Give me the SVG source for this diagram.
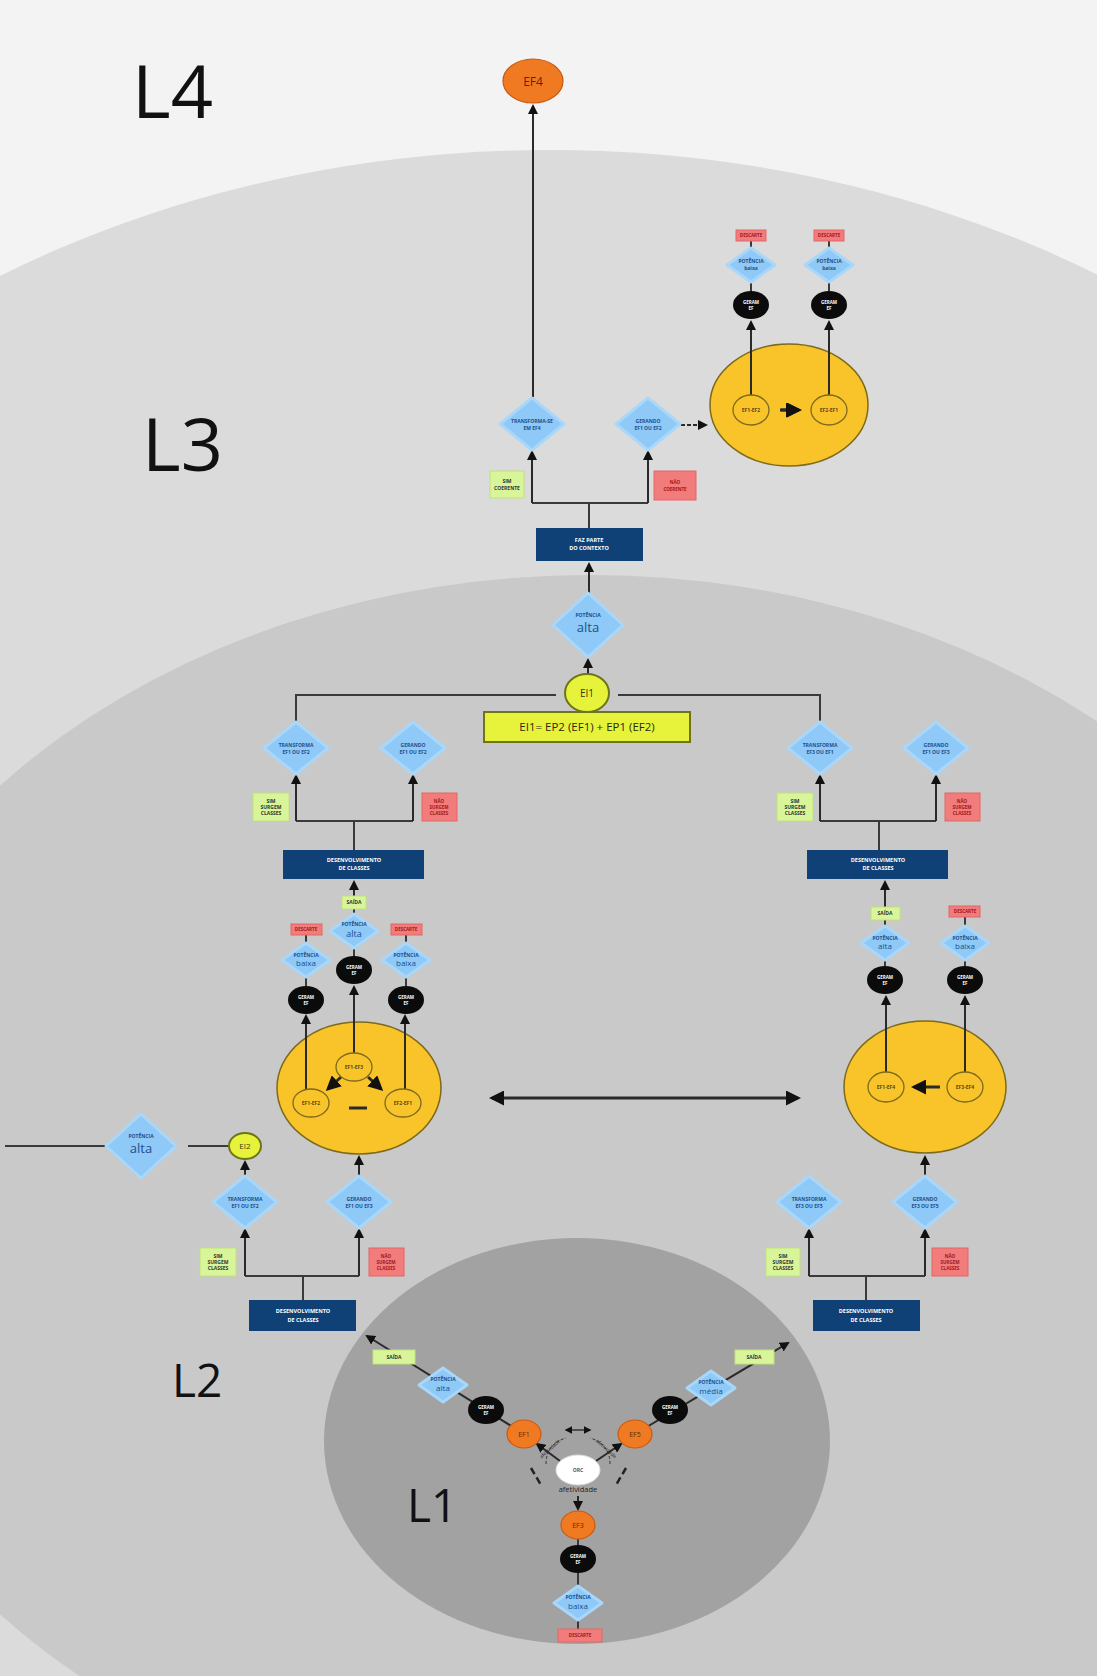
<svg xmlns="http://www.w3.org/2000/svg" width="1097" height="1676" viewBox="0 0 1097 1676">
<style>
.dia{fill:#8ec9f7;stroke:#a9d7fa;stroke-width:3;stroke-linejoin:round}
.dk{fill:#0f4177}
.gr{fill:#d8f59a;stroke:#c2e27c;stroke-width:1}
.rd{fill:#f27b7b;stroke:#e46666;stroke-width:1}
.bl{fill:#0b0b0b}
.or{fill:#f07a22;stroke:#c95a12;stroke-width:1.2}
.yb{fill:#f8c42a;stroke:#7d6a1c;stroke-width:1.5}
.yi{fill:#f8c42a;stroke:#7d6a1c;stroke-width:1.3}
.ye{fill:#e7f23a;stroke:#6e7418;stroke-width:2}
.t{font-family:"Open Sans","Liberation Sans",sans-serif;text-anchor:middle}
.td{font-size:5px;fill:#1d4f8c;font-weight:700}
.tw{font-size:5.5px;fill:#fff;font-weight:700}
.tk{font-size:5px;fill:#333;font-weight:700}
.tb{font-size:4.5px;fill:#fff;font-weight:700}
.tr{font-size:4.5px;fill:#a01818;font-weight:700}
.ty{font-size:5px;fill:#5a4a10;font-weight:700}
.big{font-size:13px;fill:#1d4f8c}
.lv{font-family:"Open Sans","Liberation Sans",sans-serif;fill:#111}
.ln{stroke:#3a3a3a;stroke-width:2;fill:none}
.ar{stroke:#2a2a2a;stroke-width:2;fill:none;marker-end:url(#ah)}
.th{stroke:#2a2a2a;stroke-width:3;fill:none}
</style>
<defs>
<marker id="ah" viewBox="0 0 10 10" refX="8" refY="5" markerWidth="5" markerHeight="5" orient="auto-start-reverse">
<path d="M0,0 L10,5 L0,10 z" fill="#111"/>
</marker>
<polygon id="dA" points="0,-26 32,0 0,26 -32,0"/>
<polygon id="dB" points="0,-17 24,0 0,17 -24,0"/>
<polygon id="dC" points="0,-32 35,0 0,32 -35,0"/>
</defs>

<!-- level backgrounds -->
<rect x="0" y="0" width="1097" height="1676" fill="#f3f3f3"/>
<ellipse cx="550" cy="1000" rx="1050" ry="850" fill="#dbdbdb"/>
<ellipse cx="590" cy="1200" rx="788" ry="625" fill="#c9c9c9"/>
<ellipse cx="577" cy="1441" rx="253" ry="203" fill="#a2a2a2"/>

<!-- level labels -->
<text class="lv" x="132" y="118" font-size="74">L4</text>
<text class="lv" x="142" y="471" font-size="74">L3</text>
<text class="lv" x="172" y="1397" font-size="46">L2</text>
<text class="lv" x="407" y="1522" font-size="46">L1</text>

<!-- cycle containers (drawn under their connectors) -->
<g id="l3-ciclo"><ellipse class="yb" cx="789" cy="405" rx="79" ry="61"/></g>
<g id="l2-ciclo-esq"><ellipse class="yb" cx="359" cy="1088" rx="82" ry="66"/></g>
<g id="l2-ciclo-dir"><ellipse class="yb" cx="925" cy="1087" rx="81" ry="66"/></g>

<!-- connectors -->
<g id="connectors">
<path class="ar" d="M533,397 V106"/>
<path class="ln" d="M532,503 H648 M589,528 V503"/>
<path class="ar" d="M532,503 V452"/>
<path class="ar" d="M648,503 V452"/>
<path class="ar" d="M675,425 H706" stroke-dasharray="4 2"/>
<path class="ar" d="M589,593 V564"/>
<path class="ar" d="M588,674 V660"/>
<path class="ln" d="M296,722 V695 H556 M618,695 H820 V722"/>

<path class="ln" d="M296,821 H413 M354,850 V821"/>
<path class="ar" d="M296,821 V776"/>
<path class="ar" d="M413,821 V776"/>
<path class="ar" d="M354,896 V882"/>
<path class="ln" d="M354,909 V915 M354,948 V957 M306,935 V944 M306,977 V986 M406,935 V944 M406,977 V986"/>
<path class="ar" d="M306,1090 V1016"/>
<path class="ar" d="M354,1053 V987"/>
<path class="ar" d="M405,1090 V1016"/>
<path class="th" d="M341,1077 L328,1089" marker-end="url(#ah)"/>
<path class="th" d="M368,1077 L381,1089" marker-end="url(#ah)"/>
<path class="th" d="M349,1108 H367"/>
<path class="ar" d="M359,1175 V1157"/>
<path class="ar" d="M245,1175 V1162"/>
<path class="ln" d="M188,1146 H228 M5,1146 H105"/>
<path class="ln" d="M245,1276 H359 M303,1300 V1276"/>
<path class="ar" d="M245,1276 V1230"/>
<path class="ar" d="M359,1276 V1230"/>

<path class="th" d="M492,1098 H798" marker-start="url(#ah)" marker-end="url(#ah)"/>

<path class="ln" d="M820,821 H936 M879,850 V821"/>
<path class="ar" d="M820,821 V776"/>
<path class="ar" d="M936,821 V776"/>
<path class="ar" d="M885,907 V882"/>
<path class="ln" d="M885,920 V927 M885,960 V966 M965,917 V927 M965,960 V966"/>
<path class="ar" d="M886,1072 V997"/>
<path class="ar" d="M965,1072 V997"/>
<path class="th" d="M940,1087 H914" marker-end="url(#ah)"/>
<path class="ar" d="M925,1175 V1157"/>
<path class="ln" d="M809,1276 H925 M866,1300 V1276"/>
<path class="ar" d="M809,1276 V1230"/>
<path class="ar" d="M925,1276 V1230"/>

<path class="ar" d="M751,395 V322"/>
<path class="ar" d="M829,395 V322"/>
<path class="th" d="M780,410 H799" marker-end="url(#ah)"/>
<path class="ln" d="M751,241 V249 M751,281 V291 M829,241 V249 M829,281 V291"/>

<path class="ar" d="M524,1434 L367,1336"/>
<path class="ar" d="M635,1434 L788,1343"/>
<path class="ln" d="M578,1539 V1632"/>
<path class="ar" d="M560,1461 L537,1444"/>
<path class="ar" d="M596,1461 L621,1444"/>
<path class="ar" d="M578,1496 V1509"/>
<path d="M546,1464 Q546,1444 566,1438 M610,1464 Q610,1444 590,1438" stroke="#333" stroke-width="1" fill="none" stroke-dasharray="3 2"/>
<path d="M531,1468 L541,1485 M626,1468 L616,1485" stroke="#222" stroke-width="2.5" fill="none" stroke-dasharray="7 4"/>
<path d="M566,1430 H590" stroke="#333" stroke-width="1.5" fill="none" marker-start="url(#ah)" marker-end="url(#ah)"/>
</g>

<!-- L4 -->
<g id="ef4"><ellipse class="or" cx="533" cy="81" rx="30" ry="22"/><text class="t" x="533" y="86" font-size="12" fill="#5a2a05">EF4</text></g>

<!-- L3 -->
<g id="l3-transforma"><use href="#dA" class="dia" x="532" y="424"/><text class="t td" x="532" y="423">TRANSFORMA-SE</text><text class="t td" x="532" y="430">EM EF4</text></g>
<g id="l3-gerando"><use href="#dA" class="dia" x="648" y="424"/><text class="t td" x="648" y="423">GERANDO</text><text class="t td" x="648" y="430">EF1 OU EF2</text></g>
<g id="l3-sim"><rect class="gr" x="490" y="471" width="34" height="27"/><text class="t tk" x="507" y="483">SIM</text><text class="t tk" x="507" y="490">COERENTE</text></g>
<g id="l3-nao"><rect class="rd" x="654" y="471" width="42" height="29"/><text class="t tr" x="675" y="484">NÃO</text><text class="t tr" x="675" y="491">COERENTE</text></g>
<g id="l3-contexto"><rect class="dk" x="536" y="528" width="107" height="33"/><text class="t tw" x="589" y="542">FAZ PARTE</text><text class="t tw" x="589" y="550">DO CONTEXTO</text></g>
<g id="l3-potencia"><use href="#dC" class="dia" x="588" y="625"/><text class="t td" x="588" y="617">POTÊNCIA</text><text class="t big" x="588" y="632">alta</text></g>

<g id="l3-ef1-ef2"><ellipse class="yi" cx="751" cy="410" rx="18" ry="15"/><text class="t ty" x="751" y="412">EF1-EF2</text></g>
<g id="l3-ef2-ef1"><ellipse class="yi" cx="829" cy="410" rx="18" ry="15"/><text class="t ty" x="829" y="412">EF2-EF1</text></g>
<path class="th" d="M781,410 H798" marker-end="url(#ah)"/>
<g id="l3-geram-a"><ellipse class="bl" cx="751" cy="305" rx="18" ry="14"/><text class="t tb" x="751" y="304">GERAM</text><text class="t tb" x="751" y="310">EF</text></g>
<g id="l3-geram-b"><ellipse class="bl" cx="829" cy="305" rx="18" ry="14"/><text class="t tb" x="829" y="304">GERAM</text><text class="t tb" x="829" y="310">EF</text></g>
<g id="l3-baixa-a"><use href="#dB" class="dia" x="751" y="265"/><text class="t td" x="751" y="263">POTÊNCIA</text><text class="t td" x="751" y="270">baixa</text></g>
<g id="l3-baixa-b"><use href="#dB" class="dia" x="829" y="265"/><text class="t td" x="829" y="263">POTÊNCIA</text><text class="t td" x="829" y="270">baixa</text></g>
<g id="l3-desc-a"><rect class="rd" x="736" y="230" width="30" height="11"/><text class="t tr" x="751" y="237">DESCARTE</text></g>
<g id="l3-desc-b"><rect class="rd" x="814" y="230" width="30" height="11"/><text class="t tr" x="829" y="237">DESCARTE</text></g>

<!-- EI1 -->
<g id="ei1"><ellipse class="ye" cx="587" cy="693" rx="22" ry="19"/><text class="t" x="587" y="697" font-size="10" fill="#3a3a10">EI1</text></g>
<g id="ei1-formula"><rect x="484" y="712" width="206" height="30" fill="#e7f23a" stroke="#6e7418" stroke-width="2"/><text class="t" x="587" y="731" font-size="11.5" fill="#2a2a10">EI1= EP2 (EF1) + EP1 (EF2)</text></g>

<!-- L2 left, upper -->
<g id="l2a-transforma"><use href="#dA" class="dia" x="296" y="748"/><text class="t td" x="296" y="747">TRANSFORMA</text><text class="t td" x="296" y="754">EF1 OU EF2</text></g>
<g id="l2a-gerando"><use href="#dA" class="dia" x="413" y="748"/><text class="t td" x="413" y="747">GERANDO</text><text class="t td" x="413" y="754">EF1 OU EF2</text></g>
<g id="l2a-sim"><rect class="gr" x="253" y="793" width="36" height="28"/><text class="t tk" x="271" y="803">SIM</text><text class="t tk" x="271" y="809">SURGEM</text><text class="t tk" x="271" y="815">CLASSES</text></g>
<g id="l2a-nao"><rect class="rd" x="422" y="793" width="35" height="28"/><text class="t tr" x="439" y="803">NÃO</text><text class="t tr" x="439" y="809">SURGEM</text><text class="t tr" x="439" y="815">CLASSES</text></g>
<g id="l2a-desenv"><rect class="dk" x="283" y="850" width="141" height="29"/><text class="t tw" x="354" y="862">DESENVOLVIMENTO</text><text class="t tw" x="354" y="870">DE CLASSES</text></g>
<g id="l2a-saida"><rect class="gr" x="342" y="896" width="24" height="13"/><text class="t tk" x="354" y="904">SAÍDA</text></g>
<g id="l2a-alta"><use href="#dB" class="dia" x="354" y="931"/><text class="t td" x="354" y="926">POTÊNCIA</text><text class="t" x="354" y="937" font-size="9" fill="#1d4f8c">alta</text></g>
<g id="l2a-geram-c"><ellipse class="bl" cx="354" cy="970" rx="18" ry="14"/><text class="t tb" x="354" y="969">GERAM</text><text class="t tb" x="354" y="975">EF</text></g>
<g id="l2a-desc-a"><rect class="rd" x="291" y="924" width="31" height="11"/><text class="t tr" x="306" y="931">DESCARTE</text></g>
<g id="l2a-baixa-a"><use href="#dB" class="dia" x="306" y="960"/><text class="t td" x="306" y="957">POTÊNCIA</text><text class="t" x="306" y="966" font-size="8" fill="#1d4f8c">baixa</text></g>
<g id="l2a-geram-a"><ellipse class="bl" cx="306" cy="1000" rx="18" ry="14"/><text class="t tb" x="306" y="999">GERAM</text><text class="t tb" x="306" y="1005">EF</text></g>
<g id="l2a-desc-b"><rect class="rd" x="391" y="924" width="31" height="11"/><text class="t tr" x="406" y="931">DESCARTE</text></g>
<g id="l2a-baixa-b"><use href="#dB" class="dia" x="406" y="960"/><text class="t td" x="406" y="957">POTÊNCIA</text><text class="t" x="406" y="966" font-size="8" fill="#1d4f8c">baixa</text></g>
<g id="l2a-geram-b"><ellipse class="bl" cx="406" cy="1000" rx="18" ry="14"/><text class="t tb" x="406" y="999">GERAM</text><text class="t tb" x="406" y="1005">EF</text></g>

<g id="l2-ef1-ef3"><ellipse class="yi" cx="354" cy="1067" rx="18" ry="14"/><text class="t ty" x="354" y="1069">EF1-EF3</text></g>
<g id="l2-ef1-ef2"><ellipse class="yi" cx="311" cy="1103" rx="18" ry="14"/><text class="t ty" x="311" y="1105">EF1-EF2</text></g>
<g id="l2-ef2-ef1"><ellipse class="yi" cx="403" cy="1103" rx="18" ry="14"/><text class="t ty" x="403" y="1105">EF2-EF1</text></g>

<!-- L2 left, lower -->
<g id="ei2"><ellipse class="ye" cx="245" cy="1146" rx="16" ry="13"/><text class="t" x="245" y="1149" font-size="8" fill="#3a3a10">EI2</text></g>
<g id="l2-alta-ext"><use href="#dC" class="dia" x="141" y="1146"/><text class="t td" x="141" y="1138">POTÊNCIA</text><text class="t big" x="141" y="1153">alta</text></g>
<g id="l2b-transforma"><use href="#dA" class="dia" x="245" y="1202"/><text class="t td" x="245" y="1201">TRANSFORMA</text><text class="t td" x="245" y="1208">EF1 OU EF2</text></g>
<g id="l2b-gerando"><use href="#dA" class="dia" x="359" y="1202"/><text class="t td" x="359" y="1201">GERANDO</text><text class="t td" x="359" y="1208">EF1 OU EF3</text></g>
<g id="l2b-sim"><rect class="gr" x="200" y="1248" width="36" height="28"/><text class="t tk" x="218" y="1258">SIM</text><text class="t tk" x="218" y="1264">SURGEM</text><text class="t tk" x="218" y="1270">CLASSES</text></g>
<g id="l2b-nao"><rect class="rd" x="369" y="1248" width="35" height="28"/><text class="t tr" x="386" y="1258">NÃO</text><text class="t tr" x="386" y="1264">SURGEM</text><text class="t tr" x="386" y="1270">CLASSES</text></g>
<g id="l2b-desenv"><rect class="dk" x="249" y="1300" width="107" height="31"/><text class="t tw" x="303" y="1313">DESENVOLVIMENTO</text><text class="t tw" x="303" y="1322">DE CLASSES</text></g>

<!-- L2 right, upper -->
<g id="l2c-transforma"><use href="#dA" class="dia" x="820" y="748"/><text class="t td" x="820" y="747">TRANSFORMA</text><text class="t td" x="820" y="754">EF3 OU EF1</text></g>
<g id="l2c-gerando"><use href="#dA" class="dia" x="936" y="748"/><text class="t td" x="936" y="747">GERANDO</text><text class="t td" x="936" y="754">EF1 OU EF3</text></g>
<g id="l2c-sim"><rect class="gr" x="777" y="793" width="36" height="28"/><text class="t tk" x="795" y="803">SIM</text><text class="t tk" x="795" y="809">SURGEM</text><text class="t tk" x="795" y="815">CLASSES</text></g>
<g id="l2c-nao"><rect class="rd" x="945" y="793" width="35" height="28"/><text class="t tr" x="962" y="803">NÃO</text><text class="t tr" x="962" y="809">SURGEM</text><text class="t tr" x="962" y="815">CLASSES</text></g>
<g id="l2c-desenv"><rect class="dk" x="807" y="850" width="141" height="29"/><text class="t tw" x="878" y="862">DESENVOLVIMENTO</text><text class="t tw" x="878" y="870">DE CLASSES</text></g>
<g id="l2c-saida"><rect class="gr" x="871" y="907" width="29" height="13"/><text class="t tk" x="885" y="915">SAÍDA</text></g>
<g id="l2c-alta"><use href="#dB" class="dia" x="885" y="943"/><text class="t td" x="885" y="940">POTÊNCIA</text><text class="t" x="885" y="949" font-size="8" fill="#1d4f8c">alta</text></g>
<g id="l2c-geram-a"><ellipse class="bl" cx="885" cy="980" rx="18" ry="14"/><text class="t tb" x="885" y="979">GERAM</text><text class="t tb" x="885" y="985">EF</text></g>
<g id="l2c-desc"><rect class="rd" x="949" y="906" width="31" height="11"/><text class="t tr" x="965" y="913">DESCARTE</text></g>
<g id="l2c-baixa"><use href="#dB" class="dia" x="965" y="943"/><text class="t td" x="965" y="940">POTÊNCIA</text><text class="t" x="965" y="949" font-size="8" fill="#1d4f8c">baixa</text></g>
<g id="l2c-geram-b"><ellipse class="bl" cx="965" cy="980" rx="18" ry="14"/><text class="t tb" x="965" y="979">GERAM</text><text class="t tb" x="965" y="985">EF</text></g>
<g id="l2-ef1-ef4"><ellipse class="yi" cx="886" cy="1087" rx="18" ry="15"/><text class="t ty" x="886" y="1089">EF1-EF4</text></g>
<g id="l2-ef3-ef4"><ellipse class="yi" cx="965" cy="1087" rx="18" ry="15"/><text class="t ty" x="965" y="1089">EF3-EF4</text></g>

<!-- L2 right, lower -->
<g id="l2d-transforma"><use href="#dA" class="dia" x="809" y="1202"/><text class="t td" x="809" y="1201">TRANSFORMA</text><text class="t td" x="809" y="1208">EF3 OU EF5</text></g>
<g id="l2d-gerando"><use href="#dA" class="dia" x="925" y="1202"/><text class="t td" x="925" y="1201">GERANDO</text><text class="t td" x="925" y="1208">EF3 OU EF5</text></g>
<g id="l2d-sim"><rect class="gr" x="766" y="1248" width="34" height="28"/><text class="t tk" x="783" y="1258">SIM</text><text class="t tk" x="783" y="1264">SURGEM</text><text class="t tk" x="783" y="1270">CLASSES</text></g>
<g id="l2d-nao"><rect class="rd" x="932" y="1248" width="36" height="28"/><text class="t tr" x="950" y="1258">NÃO</text><text class="t tr" x="950" y="1264">SURGEM</text><text class="t tr" x="950" y="1270">CLASSES</text></g>
<g id="l2d-desenv"><rect class="dk" x="813" y="1300" width="107" height="31"/><text class="t tw" x="866" y="1313">DESENVOLVIMENTO</text><text class="t tw" x="866" y="1322">DE CLASSES</text></g>

<!-- L1 -->
<g id="orc"><ellipse cx="578" cy="1470" rx="22" ry="15" fill="#fff" stroke="#ddd"/><text class="t" x="578" y="1472" font-size="5" fill="#555" font-weight="700">ORC</text></g>
<text class="t" x="578" y="1492" font-size="7.5" fill="#222">afetividade</text>
<text class="t" x="551" y="1450" font-size="5" fill="#222" transform="rotate(-42 551 1450)">afetividade</text>
<text class="t" x="605" y="1450" font-size="5" fill="#222" transform="rotate(42 605 1450)">afetividade</text>
<g id="ef1"><ellipse class="or" cx="524" cy="1434" rx="17" ry="14"/><text class="t" x="524" y="1437" font-size="7" fill="#5a2a05">EF1</text></g>
<g id="ef5"><ellipse class="or" cx="635" cy="1434" rx="17" ry="14"/><text class="t" x="635" y="1437" font-size="7" fill="#5a2a05">EF5</text></g>
<g id="ef3"><ellipse class="or" cx="578" cy="1525" rx="17" ry="14"/><text class="t" x="578" y="1528" font-size="7" fill="#5a2a05">EF3</text></g>
<g id="l1-geram-e"><ellipse class="bl" cx="486" cy="1410" rx="18" ry="14"/><text class="t tb" x="486" y="1409">GERAM</text><text class="t tb" x="486" y="1415">EF</text></g>
<g id="l1-geram-d"><ellipse class="bl" cx="670" cy="1410" rx="18" ry="14"/><text class="t tb" x="670" y="1409">GERAM</text><text class="t tb" x="670" y="1415">EF</text></g>
<g id="l1-geram-b"><ellipse class="bl" cx="578" cy="1559" rx="18" ry="14"/><text class="t tb" x="578" y="1558">GERAM</text><text class="t tb" x="578" y="1564">EF</text></g>
<g id="l1-alta"><use href="#dB" class="dia" x="443" y="1385"/><text class="t td" x="443" y="1381">POTÊNCIA</text><text class="t" x="443" y="1391" font-size="8" fill="#1d4f8c">alta</text></g>
<g id="l1-media"><use href="#dB" class="dia" x="711" y="1388"/><text class="t td" x="711" y="1384">POTÊNCIA</text><text class="t" x="711" y="1394" font-size="8" fill="#1d4f8c">média</text></g>
<g id="l1-baixa"><use href="#dB" class="dia" x="578" y="1603"/><text class="t td" x="578" y="1599">POTÊNCIA</text><text class="t" x="578" y="1609" font-size="8" fill="#1d4f8c">baixa</text></g>
<g id="l1-saida-e"><rect class="gr" x="373" y="1350" width="42" height="14"/><text class="t tk" x="394" y="1359">SAÍDA</text></g>
<g id="l1-saida-d"><rect class="gr" x="735" y="1350" width="39" height="14"/><text class="t tk" x="754" y="1359">SAÍDA</text></g>
<g id="l1-desc"><rect class="rd" x="558" y="1629" width="44" height="13"/><text class="t tr" x="580" y="1637">DESCARTE</text></g>
</svg>
